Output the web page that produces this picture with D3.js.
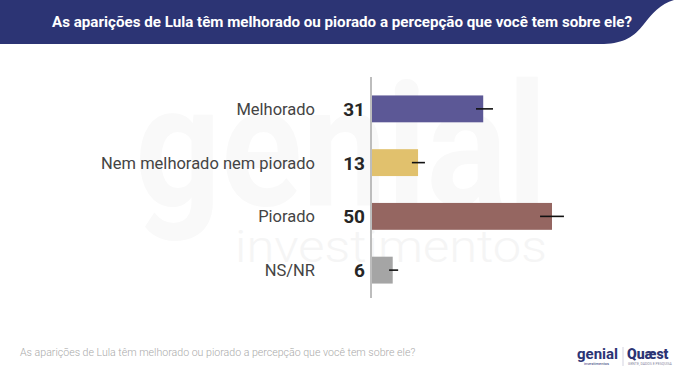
<!DOCTYPE html>
<html><head><meta charset="utf-8">
<script src="https://cdn.jsdelivr.net/npm/d3@7/dist/d3.min.js"></script>
<style>body{margin:0;background:#fff}svg{display:block;font-family:Roboto,sans-serif}</style>
</head><body><svg id="c" width="680" height="380"></svg>
<script>
const title = "As aparições de Lula têm melhorado ou piorado a percepção que você tem sobre ele?";
const categories = ["Melhorado", "Nem melhorado nem piorado", "Piorado", "NS/NR"];
const values = [31, 13, 50, 6];
const errLow = [29, 11.3, 46.7, 5];
const errHigh = [33.7, 14.9, 53.3, 7.5];
const colors = ["#5c5896", "#e1c16d", "#956661", "#a5a5a5"];

const svg = d3.select("#c");
// header band
svg.append("path")
  .attr("d", "M0,0 L674,0 C660,4 652,14 644,24 C634,37 624,43 604,44 L0,44 Z")
  .attr("fill", "#2c3474");
svg.append("text").attr("x", 342).attr("y", 27).attr("text-anchor", "middle")
  .attr("fill", "#fff").attr("font-size", 15.2).attr("font-weight", 700)
  .attr("textLength", 580).attr("lengthAdjust", "spacingAndGlyphs").text(title);

// watermark (very faint)
svg.append("text").attr("x", 135).attr("y", 205).attr("font-size", 170).attr("font-weight", 700)
  .attr("fill", "#f9f9f9").attr("textLength", 412).attr("lengthAdjust", "spacingAndGlyphs").text("genial");
svg.append("text").attr("x", 235).attr("y", 262).attr("font-size", 44).attr("font-weight", 300)
  .attr("fill", "#f5f5f5").attr("textLength", 312).attr("lengthAdjust", "spacingAndGlyphs").text("investimentos");

const x = d3.scaleLinear().domain([0, 50]).range([371, 552]);
const y = d3.scaleBand().domain(categories).range([82, 297]).paddingInner(0.5).paddingOuter(0.25);

svg.selectAll("rect.bar").data(categories).join("rect").attr("class", "bar")
  .attr("x", x(0)).attr("y", d => y(d)).attr("height", y.bandwidth())
  .attr("width", (d, i) => x(values[i]) - x(0)).attr("fill", (d, i) => colors[i]);

svg.append("line").attr("x1", x(0)).attr("x2", x(0)).attr("y1", 77).attr("y2", 298)
  .attr("stroke", "#bdbdbd").attr("stroke-width", 2);

svg.selectAll("line.err").data(categories).join("line").attr("class", "err")
  .attr("x1", (d, i) => x(errLow[i])).attr("x2", (d, i) => x(errHigh[i]))
  .attr("y1", d => y(d) + y.bandwidth() / 2).attr("y2", d => y(d) + y.bandwidth() / 2)
  .attr("stroke", "#111").attr("stroke-width", 1.6);

svg.selectAll("text.cat").data(categories).join("text").attr("class", "cat")
  .attr("x", 315).attr("y", d => y(d) + y.bandwidth() / 2 + 6).attr("text-anchor", "end")
  .attr("font-size", 16.5).attr("fill", "#444").text(d => d);

svg.selectAll("text.val").data(categories).join("text").attr("class", "val")
  .attr("x", 365).attr("y", d => y(d) + y.bandwidth() / 2 + 7).attr("text-anchor", "end")
  .attr("font-size", 19).attr("font-weight", 700).attr("fill", "#262626").text((d, i) => values[i]);

// footer
svg.append("text").attr("x", 20).attr("y", 356).attr("font-size", 10.6).attr("font-weight", 300)
  .attr("fill", "#aaaaaa").text(title);
// logos
svg.append("text").attr("x", 577).attr("y", 359).attr("font-size", 15).attr("font-weight", 700)
  .attr("fill", "#2c3474").text("genial");
svg.append("text").attr("x", 584).attr("y", 365).attr("font-size", 4).attr("fill", "#2c3474").text("investimentos");
svg.append("line").attr("x1", 623).attr("x2", 623).attr("y1", 347).attr("y2", 366).attr("stroke", "#c8c8d8").attr("stroke-width", 0.8);
svg.append("text").attr("x", 627).attr("y", 359).attr("font-size", 14).attr("font-weight", 900)
  .attr("fill", "#2c3474").text("Quæst");
svg.append("text").attr("x", 628).attr("y", 365).attr("font-size", 3.5).attr("fill", "#8888a0").text("GENTE, DADOS E PESQUISA");
</script></body></html>
